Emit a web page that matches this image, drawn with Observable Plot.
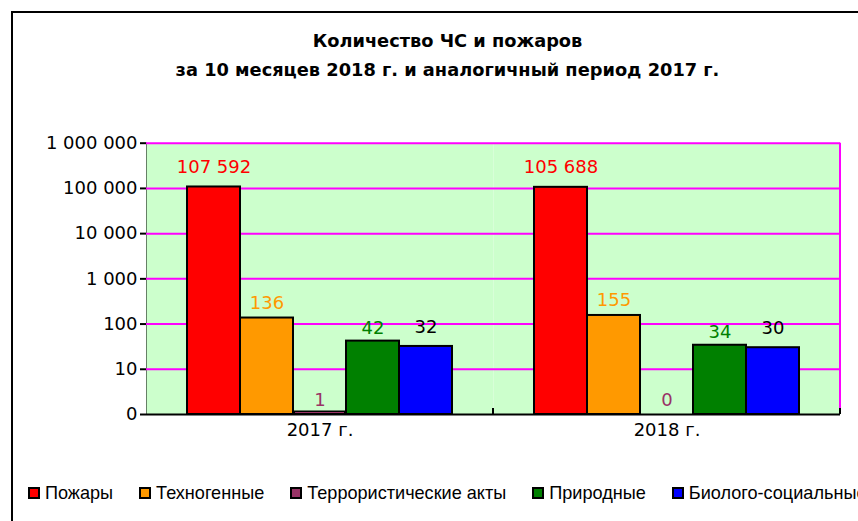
<!DOCTYPE html>
<html><head><meta charset="utf-8">
<script src="https://cdn.jsdelivr.net/npm/d3@7"></script>
<script src="https://cdn.jsdelivr.net/npm/@observablehq/plot@0.6"></script>
<style>
html,body{margin:0;padding:0;background:#fff;}
#page{position:relative;width:858px;height:521px;overflow:hidden;background:#fff;}
#frame{position:absolute;left:11px;top:11px;width:900px;height:600px;border:2px solid #000;box-sizing:border-box;}
.title{position:absolute;left:0;width:895px;text-align:center;font-family:"DejaVu Sans";font-weight:bold;font-size:17.8px;line-height:28px;color:#000;white-space:nowrap;}
#chart{position:absolute;left:0;top:100px;}
#chart svg text{font-family:"DejaVu Sans";font-size:18px;}
#chart svg g[aria-label^="y-axis"] line,#chart svg g[aria-label^="y-axis"] path{stroke-width:2px;}
#legend{position:absolute;left:28px;top:483px;height:20px;display:flex;align-items:center;gap:26px;white-space:nowrap;font-family:"Liberation Sans";font-size:18.1px;line-height:20px;color:#000;}
.item{display:flex;align-items:center;gap:5px;}
.sw{width:12px;height:12px;box-sizing:border-box;border:2px solid #000;display:inline-block;}
</style></head>
<body><div id="page">
<div id="frame"></div>
<div class="title" style="top:27px">Количество ЧС и пожаров</div>
<div class="title" style="top:56px">за 10 месяцев 2018 г. и аналогичный период 2017 г.</div>
<div id="chart"></div>
<div id="legend"></div>
</div>
<script>
const years = ["2017 г.", "2018 г."];
const categories = ["Пожары", "Техногенные", "Террористические акты", "Природные", "Биолого-социальные"];
const values2017 = [107592, 136, 1, 42, 32];
const values2018 = [105688, 155, 0, 34, 30];
const yTicks = [1, 10, 100, 1000, 10000, 100000, 1000000];
const baseline = 1;
const fills = ["#ff0000", "#ff9900", "#993366", "#008000", "#0000ff"];
const labelColors = ["#ff0000", "#ff9900", "#993366", "#008000", "#000000"];
const labelOffsets = [-20, -15, -14, -13, -19];

const rows = [];
[values2017, values2018].forEach((vals, yi) => {
  vals.forEach((v, ci) => rows.push({year: years[yi], category: categories[ci], value: v}));
});

const spaced = n => d3.format(",")(n).replace(/,/g, "\u00a0");
const fmtTick = v => v === baseline ? "0" : spaced(v);

const plot = Plot.plot({
  width: 858,
  height: 350,
  marginLeft: 145,
  marginRight: 18,
  marginTop: 42.7,
  marginBottom: 36,
  style: {fontFamily: "DejaVu Sans", fontSize: "18px", color: "#000", background: "transparent", overflow: "visible"},
  facet: {data: rows, x: "year"},
  fx: {domain: years, padding: 0, label: null, tickSize: 0, tickPadding: 9, axis: "bottom"},
  x: {domain: categories, paddingInner: 0, paddingOuter: 0.76, axis: null},
  y: {type: "log", domain: [baseline, 1000000], ticks: yTicks, tickFormat: fmtTick, tickSize: 6, tickPadding: 3, label: null, line: true},
  color: {domain: categories, range: fills},
  marks: [
    Plot.frame({fill: "#ccffcc"}),
    Plot.ruleY(yTicks.slice(1), {stroke: "#ff00ff", strokeWidth: 2}),
    Plot.barY(rows, {x: "category", y1: baseline, y2: "value", fill: "category", stroke: "#000", strokeWidth: 2}),
    // bars whose value sits on the baseline collapse to a flat outlined sliver
    Plot.tickY(rows, {filter: d => d.value === baseline, x: "category", y: "value", stroke: "#000", strokeWidth: 4, dy: -2}),
    Plot.tickY(rows, {filter: d => d.value === baseline, x: "category", y: "value", stroke: "category", strokeWidth: 1.2, dy: -2, inset: 2}),
    Plot.ruleY([baseline], {stroke: "#000", strokeWidth: 2}),
    ...categories.map((c, i) => Plot.text(rows, {
      filter: d => d.category === c,
      x: "category",
      y: d => Math.max(d.value, baseline),
      text: d => spaced(d.value),
      fill: labelColors[i],
      fontSize: 18,
      dy: labelOffsets[i]
    }))
  ]
});

document.getElementById("chart").appendChild(plot);

// right edge of plot area and category divider ticks, from the scales
const fx = plot.scale("fx"), ys = plot.scale("y");
const xRight = fx.apply(years[years.length - 1]) + fx.bandwidth;
const xMid = fx.apply(years[1]);
const svg = d3.select(plot.tagName.toLowerCase() === "svg" ? plot : plot.querySelector("svg"));
svg.append("line")
  .attr("x1", xRight).attr("x2", xRight)
  .attr("y1", ys.apply(1000000)).attr("y2", ys.apply(baseline))
  .attr("stroke", "#ff00ff").attr("stroke-width", 2);
[xMid, xRight].forEach(xv => {
  svg.append("line")
    .attr("x1", xv).attr("x2", xv)
    .attr("y1", ys.apply(baseline)).attr("y2", ys.apply(baseline) - 6)
    .attr("stroke", "#000").attr("stroke-width", 2);
});

const legend = d3.select("#legend");
categories.forEach((c, i) => {
  const it = legend.append("div").attr("class", "item");
  it.append("span").attr("class", "sw").style("background", fills[i]);
  it.append("span").text(c);
});
</script>
</body></html>
